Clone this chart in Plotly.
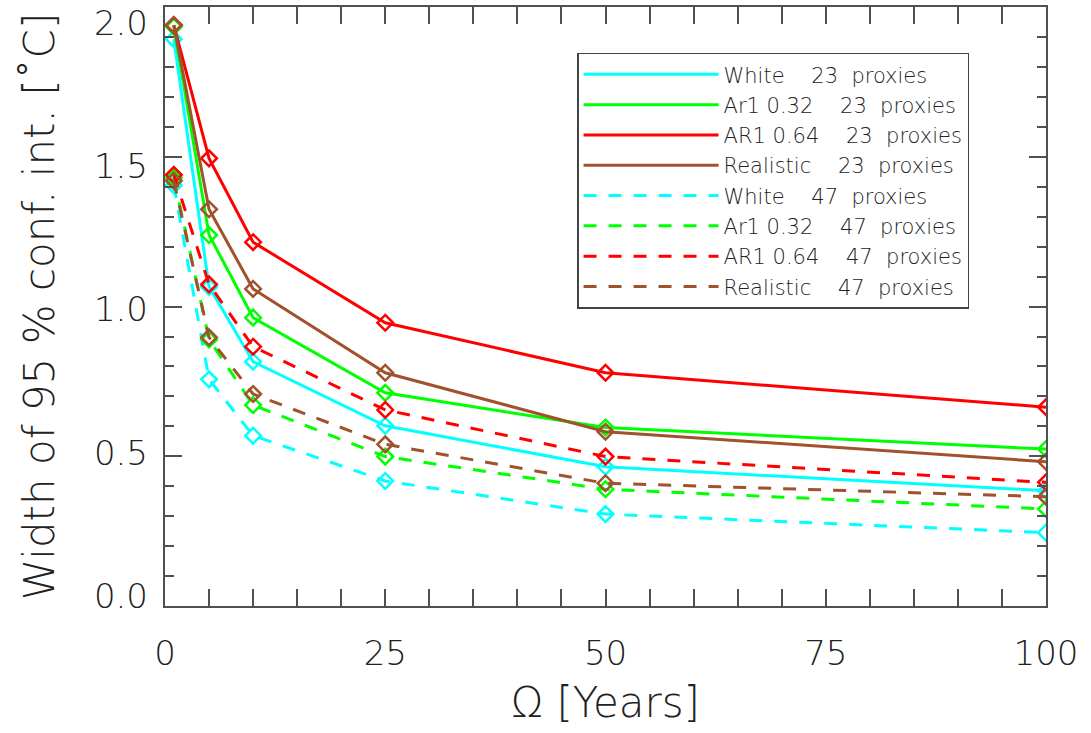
import plotly.graph_objects as go

omega = [1, 5, 10, 25, 50, 100]

white_23 = [1.893, 1.066, 0.816, 0.602, 0.465, 0.385]
ar1_032_23 = [1.935, 1.239, 0.963, 0.712, 0.596, 0.524]
ar1_064_23 = [1.940, 1.495, 1.215, 0.946, 0.779, 0.664]
real_23 = [1.940, 1.325, 1.059, 0.779, 0.582, 0.482]
white_47 = [1.405, 0.757, 0.569, 0.4175, 0.307, 0.245]
ar1_032_47 = [1.430, 0.890, 0.671, 0.499, 0.390, 0.324]
ar1_064_47 = [1.440, 1.074, 0.866, 0.655, 0.499, 0.413]
real_47 = [1.420, 0.897, 0.708, 0.540, 0.410, 0.365]

x_ticks = [0, 25, 50, 75, 100]
y_ticks = [0, 0.5, 1.0, 1.5, 2.0]
y_ticktext = ["0.0", "0.5", "1.0", "1.5", "2.0"]

S = "\u00a0"
names = [
    "White" + S * 4 + "23" + S * 2 + "proxies",
    "Ar1 0.32" + S * 4 + "23" + S * 2 + "proxies",
    "AR1 0.64" + S * 4 + "23" + S * 2 + "proxies",
    "Realistic" + S * 4 + "23" + S * 2 + "proxies",
    "White" + S * 4 + "47" + S * 2 + "proxies",
    "Ar1 0.32" + S * 4 + "47" + S * 2 + "proxies",
    "AR1 0.64" + S * 4 + "47" + S * 2 + "proxies",
    "Realistic" + S * 4 + "47" + S * 2 + "proxies",
]
series = [white_23, ar1_032_23, ar1_064_23, real_23, white_47, ar1_032_47, ar1_064_47, real_47]
colors = ["#00FFFF", "#00FF00", "#FF0000", "#A0522D"] * 2
dashes = ["solid"] * 4 + ["13px,12px"] * 4

FONT = "DejaVu Sans"
TXT = "#222222"
AX = "#505050"
fig = go.Figure()
for name, ys, c, d in zip(names, series, colors, dashes):
    fig.add_trace(go.Scatter(x=omega, y=ys, mode="lines", name=name,
                             line=dict(color=c, width=3, dash=d)))
    fig.add_trace(go.Scatter(x=omega, y=ys, mode="markers", showlegend=False,
                             marker=dict(symbol="diamond-open", size=12, color=c,
                                         line=dict(color=c, width=2.5))))
# empty trace so the label-only y axis is drawn
fig.add_trace(go.Scatter(x=[], y=[], yaxis="y2", showlegend=False, hoverinfo="skip"))

axis_common = dict(
    showgrid=False, zeroline=False, showline=True, linecolor=AX, linewidth=2,
    mirror="allticks", ticks="inside", tickcolor=AX, tickwidth=2, automargin=False,
    tickfont=dict(family=FONT, size=34, color=TXT, weight=200),
)
fig.update_xaxes(range=[0, 100], tickvals=x_ticks, ticklen=17,
                 minor=dict(dtick=5, ticks="inside", ticklen=9, tickcolor=AX, tickwidth=2),
                 ticklabelstandoff=16, ticklabeloverflow="allow",
                 title=dict(text="\u03a9 [Years]", font=dict(family=FONT, size=42, color=TXT, weight=200), standoff=16),
                 **axis_common)
fig.update_yaxes(range=[0, 2.0005], tickvals=y_ticks, ticklen=17, showticklabels=False,
                 minor=dict(dtick=0.1, ticks="inside", ticklen=9, tickcolor=AX, tickwidth=2),
                 **axis_common)

fig.update_layout(
    width=1091, height=733,
    margin=dict(l=165, r=45, t=7, b=127),
    plot_bgcolor="white", paper_bgcolor="white",
    showlegend=True,
    yaxis2=dict(overlaying="y", side="left", range=[-0.0353, 2.0562],
                tickvals=y_ticks, ticktext=y_ticktext, ticks="", showline=False,
                showgrid=False, zeroline=False, automargin=False, ticklabelstandoff=16,
                ticklabeloverflow="allow",
                tickfont=dict(family=FONT, size=34, color=TXT, weight=200),
                title=dict(text="Width of 95 % conf. int. [\u02daC]",
                           font=dict(family=FONT, size=42, color=TXT, weight=200), standoff=26)),
    legend=dict(x=0.4677, y=0.9237, xanchor="left", yanchor="top",
                bgcolor="white", bordercolor="#444444", borderwidth=1.5,
                font=dict(family=FONT, size=21, color=TXT, weight=200),
                itemwidth=135, tracegroupgap=0),
)
fig.write_html("out.html", config={"displayModeBar": False},
               post_script="document.body.style.margin='0';")
